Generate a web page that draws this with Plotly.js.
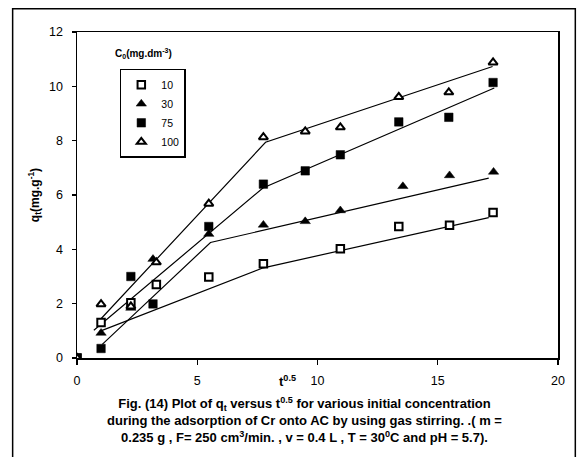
<!DOCTYPE html>
<html>
<head>
<meta charset="utf-8">
<script src="https://cdn.plot.ly/plotly-3.0.1.min.js"></script>
<style>html,body{margin:0;padding:0;background:#fff;}#chart{width:579px;height:457px;}</style>
</head>
<body>
<div id="chart"></div>
<script>
// Measured points (x = t^0.5, y = q_t)
const x10  = [0, 1, 2.24, 3.3, 5.48, 7.75, 10.95, 13.38, 15.49, 17.3];
const y10  = [0, 1.31, 2.03, 2.71, 2.98, 3.47, 4.02, 4.84, 4.89, 5.36];
const x30  = [0, 1, 2.24, 3.16, 5.48, 7.75, 9.49, 10.95, 13.55, 15.49, 17.32];
const y30  = [0, 0.92, 1.84, 3.64, 4.56, 4.90, 5.03, 5.43, 6.32, 6.72, 6.85];
const x75  = [0, 1, 2.24, 3.16, 5.48, 7.75, 9.49, 10.95, 13.38, 15.46, 17.3];
const y75  = [0, 0.35, 3.0, 1.99, 4.84, 6.40, 6.89, 7.48, 8.69, 8.86, 10.14];
const x100 = [0, 1, 2.24, 3.3, 5.48, 7.75, 9.49, 10.95, 13.38, 15.46, 17.3];
const y100 = [0, 1.98, 1.9, 3.52, 5.68, 8.13, 8.34, 8.49, 9.61, 9.78, 10.88];

// Piecewise fitted lines
const fx10  = [0.94, 7.75, 17.12];  const fy10  = [0.98, 3.32, 5.17];
const fx30  = [1.05, 5.55, 17.12];  const fy30  = [0.5, 4.25, 6.62];
const fx75  = [0.7, 7.73, 17.35];   const fy75  = [1.02, 6.26, 9.94];
const fx100 = [0.93, 7.84, 17.28];  const fy100 = [1.38, 7.94, 10.73];

const seriesNames = ["10", "30", "75", "100"];
const xTicks = [0, 5, 10, 15, 20];
const yTicks = [0, 2, 4, 6, 8, 10, 12];
const captionLines = [
  "Fig. (14) Plot of q<sub>t</sub> versus t<sup>0.5</sup> for various initial concentration",
  "during the adsorption of Cr onto AC by using gas stirring. .( m =",
  "0.235 g , F= 250 cm<sup>3</sup>/min. , v = 0.4 L , T = 30<sup>0</sup>C and pH = 5.7)."
];

const FONT = "Liberation Sans, Arial, sans-serif";
const lineStyle = {color: "black", width: 1.2};

function fit(x, y) {
  return {x: x, y: y, mode: "lines", line: lineStyle, showlegend: false, hoverinfo: "skip"};
}

const traces = [
  fit(fx10, fy10), fit(fx30, fy30), fit(fx75, fy75), fit(fx100, fy100),
  {x: x10, y: y10, name: seriesNames[0], mode: "markers",
   marker: {symbol: "square", size: 7.5, color: "white", line: {color: "black", width: 2}}},
  {x: x30, y: y30, name: seriesNames[1], mode: "markers",
   marker: {symbol: "triangle-up", size: 9, color: "black", line: {color: "black", width: 0.5}}},
  {x: x75, y: y75, name: seriesNames[2], mode: "markers",
   marker: {symbol: "square", size: 8.5, color: "black", line: {color: "black", width: 0.5}}},
  {x: x100, y: y100, name: seriesNames[3], mode: "markers",
   marker: {symbol: "triangle-up", size: 8, color: "white", line: {color: "black", width: 2}}}
];

const layout = {
  width: 579, height: 457,
  margin: {l: 77, r: 21, t: 32, b: 99},
  paper_bgcolor: "white", plot_bgcolor: "white",
  font: {family: FONT, size: 12, color: "black"},
  showlegend: true,
  legend: {
    x: 0.089, y: 0.887, xanchor: "left", yanchor: "top",
    bordercolor: "black", borderwidth: 1.5, bgcolor: "white",
    font: {family: FONT, size: 10.5, color: "black"},
    itemwidth: 30, tracegroupgap: 0
  },
  xaxis: {
    range: [0, 20], tickvals: xTicks, ticktext: xTicks.map(String),
    showgrid: false, zeroline: false,
    showline: true, linecolor: "black", linewidth: 1.5, mirror: true,
    ticks: "outside", ticklen: 5, tickwidth: 1.2, tickcolor: "black",
    ticklabelstandoff: 5,
    tickfont: {family: FONT, size: 12.5, color: "black"}
  },
  yaxis: {
    range: [0, 12], tickvals: yTicks, ticktext: yTicks.map(String),
    showgrid: false, zeroline: false,
    showline: true, linecolor: "black", linewidth: 1.5, mirror: true,
    ticks: "outside", ticklen: 4, tickwidth: 1.2, tickcolor: "black",
    ticklabelstandoff: 6,
    tickfont: {family: FONT, size: 12.5, color: "black"},
    title: {text: "<b>q<sub>t</sub>(mg.g<sup>-1</sup>)</b>", font: {family: FONT, size: 12, color: "black"}, standoff: 7}
  },
  annotations: [
    {xref: "paper", yref: "paper", x: 0.4386, y: -0.07, xanchor: "center", yanchor: "middle",
     text: "<b>t<sup>0.5</sup></b>", showarrow: false, font: {family: FONT, size: 13, color: "black"}},
    {xref: "paper", yref: "paper", x: 0.139, y: 0.933, xanchor: "center", yanchor: "middle",
     text: "<b>C<sub>0</sub>(mg.dm<sup>-3</sup>)</b>", showarrow: false, font: {family: FONT, size: 10, color: "black"}},
    {xref: "paper", yref: "paper", x: 0.474, y: -0.189, xanchor: "center", yanchor: "middle",
     text: "<b>" + captionLines.join("<br>") + "</b>", showarrow: false, align: "center",
     font: {family: FONT, size: 13, color: "black"}}
  ],
  shapes: [
    {type: "rect", xref: "paper", yref: "paper", x0: -0.1338, x1: 1.036, y0: -0.35, y1: 1.0715,
     line: {color: "black", width: 1.5}, fillcolor: "rgba(0,0,0,0)"}
  ]
};

Plotly.newPlot("chart", traces, layout, {displayModeBar: false, staticPlot: true});
</script>
</body>
</html>
